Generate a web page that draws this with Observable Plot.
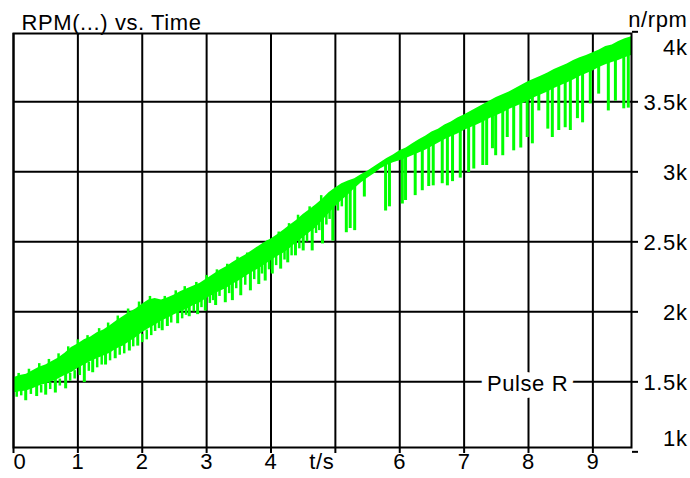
<!DOCTYPE html>
<html><head><meta charset="utf-8">
<script src="https://cdn.jsdelivr.net/npm/d3@7"></script>
<script src="https://cdn.jsdelivr.net/npm/@observablehq/plot@0.6"></script>
<style>html,body{margin:0;padding:0;background:#fff;}</style>
</head><body><div id="chart"></div>
<script>
// ---- Data ----
const title = "RPM(...) vs. Time";
const yUnit = "n/rpm";
const seriesName = "Pulse R";
const xTickValues = [0, 1, 2, 3, 4, 5, 6, 7, 8, 9];
const xTickLabels = ["0", "1", "2", "3", "4", "t/s", "6", "7", "8", "9"];
const yTickValues = [1000, 1500, 2000, 2500, 3000, 3500, 4000];
const yTickLabels = ["1k", "1.5k", "2k", "2.5k", "3k", "3.5k", "4k"];

// time samples of the dense band (s)
const bandT = [0,0.1,0.2,0.3,0.4,0.5,0.6,0.7,0.8,0.9,
1.0,1.1,1.2,1.3,1.4,1.5,1.6,1.7,1.8,1.9,
2.0,2.1,2.2,2.3,2.4,2.5,2.6,2.7,2.8,2.9,
3.0,3.1,3.2,3.3,3.4,3.5,3.6,3.7,3.8,3.9,
4.0,4.1,4.2,4.3,4.4,4.5,4.6,4.7,4.8,4.9,
5.0,5.1,5.2,5.3,5.4,5.5,5.6,5.7,5.8,5.9,
6.0,6.1,6.2,6.3,6.4,6.5,6.6,6.7,6.8,6.9,
7.0,7.1,7.2,7.3,7.4,7.5,7.6,7.7,7.8,7.9,
8.0,8.1,8.2,8.3,8.4,8.5,8.6,8.7,8.8,8.9,
9.0,9.1,9.2,9.3,9.4,9.5,9.6];
// upper edge of the dense band (rpm)
const bandUpper = [1530,1545,1555,1580,1605,1620,1645,1670,1705,1745,
1770,1800,1820,1850,1870,1900,1935,1965,1995,2020,
2055,2085,2095,2085,2100,2120,2145,2165,2185,2205,
2235,2265,2295,2320,2350,2380,2405,2435,2465,2495,
2520,2550,2585,2620,2655,2695,2730,2765,2805,2850,
2885,2915,2935,2950,2980,3005,3035,3065,3095,3120,
3150,3170,3200,3230,3255,3285,3305,3335,3355,3385,
3405,3430,3455,3480,3505,3530,3550,3570,3595,3620,
3645,3665,3685,3705,3730,3750,3770,3795,3815,3830,
3850,3870,3895,3905,3930,3950,3965];
// lower edge of the dense band (rpm)
const bandLower = [1420,1430,1435,1450,1470,1485,1500,1520,1545,1565,
1595,1620,1645,1665,1685,1705,1735,1755,1785,1815,
1850,1880,1905,1935,1955,1980,2000,2020,2045,2065,
2095,2120,2145,2165,2195,2220,2250,2280,2305,2335,
2365,2395,2420,2455,2495,2530,2565,2600,2650,2700,
2750,2795,2835,2880,2920,2955,2985,3020,3045,3065,
3080,3095,3115,3135,3155,3180,3205,3230,3250,3270,
3295,3315,3335,3355,3380,3400,3420,3445,3465,3485,
3505,3530,3550,3570,3595,3615,3635,3655,3680,3700,
3720,3745,3765,3780,3795,3815,3830];

// deep downward spikes: time, lowest rpm, rpm where the spike leaves the band
const spikeT = [0.19,0.36,0.50,0.65,0.81,1.10,1.23,1.43,1.58,1.80,1.93,
2.31,2.39,2.55,2.73,2.86,2.98,
3.14,3.29,3.40,3.53,3.68,3.81,3.91,4.02,
4.15,4.26,4.38,4.50,4.64,4.80,4.96,5.17,5.23,5.30,
5.45,5.78,5.84,6.04,6.09,
6.24,6.35,6.45,6.52,6.66,6.74,6.82,6.94,7.07,7.15,
7.29,7.35,7.44,7.49,7.60,7.67,7.77,7.88,7.98,8.06,8.16,8.30,8.37,8.47,8.57,8.65,8.76,8.84,8.96,9.09,9.24,9.35,9.48,9.55];
const spikeLow = [1365,1395,1405,1420,1450,1495,1565,1620,1665,1720,1755,
1865,1895,1915,1965,1980,2005,
2045,2065,2080,2115,2150,2195,2220,2270,
2305,2350,2400,2435,2435,2485,2505,2565,2595,2580,
2820,2720,2750,2770,2795,
2830,2865,2895,2900,2915,2900,2930,2955,2995,3020,
3045,3045,3165,3115,3115,3245,3150,3170,3245,3200,3435,3305,3245,3295,3315,3295,3380,3350,3485,3555,3435,3505,3450,3455];
const spikeTop = [1460,1470,1490,1530,1570,1650,1680,1720,1760,1810,1850,
1960,1980,2000,2060,2085,2120,
2160,2190,2225,2260,2305,2335,2370,2400,
2440,2475,2520,2560,2620,2690,2770,2860,2890,2910,
2965,3060,3080,3110,3130,
3170,3190,3210,3225,3260,3280,3300,3330,3355,3375,
3405,3425,3445,3455,3475,3495,3515,3545,3565,3585,3605,3635,3650,3670,3690,3710,3730,3745,3770,3795,3825,3845,3865,3875];

// shallow spikes that roughen the band in the first half
const fineT = [0.05,0.12,0.27,0.43,0.57,0.72,0.88,0.95,1.03,1.17,1.30,1.37,1.50,1.65,1.72,1.86,
2.00,2.07,2.14,2.20,2.26,2.45,2.62,2.68,2.80,2.92,3.05,3.10,3.20,3.35,3.46,3.60,3.74,3.86,3.97,
4.08,4.21,4.32,4.44,4.56,4.70,4.75,4.86,4.91,5.04,5.10];
const fineLow = [1390,1400,1410,1420,1445,1470,1505,1520,1545,1575,1600,1620,1650,1690,1700,1750,
1780,1800,1830,1860,1880,1920,1950,1975,2000,2030,2060,2080,2110,2130,2165,2190,2230,2270,2300,
2330,2370,2400,2450,2500,2560,2580,2620,2660,2720,2750];
const fineTop = [1440,1450,1460,1475,1495,1520,1560,1580,1610,1640,1670,1690,1720,1750,1770,1820,
1840,1870,1900,1920,1950,1990,2020,2040,2070,2100,2140,2150,2180,2200,2240,2270,2310,2350,2380,
2420,2450,2500,2540,2590,2650,2670,2720,2760,2800,2840];

// small upward peaks on the top edge of the band
const peakT = [0.08,0.24,0.40,0.55,0.70,0.85,1.00,1.15,1.33,1.47,1.62,1.78,1.95,2.12,2.35,2.52,2.66,2.84,
3.00,3.16,3.32,3.48,3.63,3.79,3.95,4.12,4.28,4.42,4.60,4.78];
const peakHigh = [1560,1590,1630,1660,1700,1750,1800,1830,1880,1920,1970,2020,2070,2110,2110,2150,2180,2210,
2260,2300,2340,2390,2420,2460,2510,2570,2630,2690,2750,2830];
const peakBase = [1520,1550,1590,1620,1660,1710,1760,1790,1840,1880,1920,1980,2030,2070,2080,2110,2140,2170,
2220,2260,2300,2350,2380,2410,2470,2530,2590,2640,2710,2780];

// ---- Chart ----
const GREEN = "#00ff00";
const FONT = "Liberation Sans, Arial, Helvetica, sans-serif";
const FS = 22;
const labelOf = (vals, labels) => d => labels[vals.indexOf(d)];
const yMid = [1500, 2000, 2500, 3000, 3500];
const xMid = [1, 2, 3, 4, 6, 7, 8, 9];

const chart = Plot.plot({
  width: 690,
  height: 478,
  marginTop: 33,
  marginBottom: 31,
  marginLeft: 13,
  marginRight: 59,
  x: {domain: [0, 9.6]},
  y: {domain: [1031, 3988]},
  style: {fontFamily: FONT, fontSize: FS + "px", background: "white", color: "black", letterSpacing: "0.6px"},
  marks: [
    Plot.gridX(xTickValues, {stroke: "black", strokeOpacity: 1, strokeWidth: 2}),
    Plot.gridY(yMid, {stroke: "black", strokeOpacity: 1, strokeWidth: 2}),
    Plot.areaY(bandT, {x: bandT, y1: bandLower, y2: bandUpper, fill: GREEN}),
    Plot.ruleX(peakT, {x: peakT, y1: peakBase, y2: peakHigh, stroke: GREEN, strokeWidth: 2.5}),
    Plot.ruleX(fineT, {x: fineT, y1: fineLow, y2: fineTop, stroke: GREEN, strokeWidth: 2.5}),
    Plot.ruleX(spikeT, {x: spikeT, y1: spikeLow, y2: spikeTop, stroke: GREEN, strokeWidth: 3}),
    Plot.text([seriesName], {frameAnchor: "bottom-right", dx: -104, dy: -57, textAnchor: "middle",
      fill: "black", stroke: "white", strokeWidth: 14, strokeLinejoin: "miter", paintOrder: "stroke", fontSize: FS, letterSpacing: "1.3px"}),
    Plot.frame({stroke: "black", strokeWidth: 2}),
    Plot.axisX(xTickValues, {anchor: "bottom", tickSize: 6, tickFormat: () => "", label: null, strokeWidth: 2}),
    Plot.axisY(yTickValues, {anchor: "right", tickSize: 6, tickFormat: () => "", label: null, strokeWidth: 2}),
    Plot.text(xMid, {x: d => d, text: labelOf(xTickValues, xTickLabels), frameAnchor: "bottom", dy: 21, fontSize: FS, fill: "black"}),
    Plot.text([0], {x: d => d, text: labelOf(xTickValues, xTickLabels), frameAnchor: "bottom", dy: 21, textAnchor: "start", fontSize: FS, fill: "black"}),
    Plot.text([5], {x: d => d, text: labelOf(xTickValues, xTickLabels), frameAnchor: "bottom", dy: 21, dx: -1, textAnchor: "end", fontSize: FS, fill: "black"}),
    Plot.text(yMid, {y: d => d, text: labelOf(yTickValues, yTickLabels), frameAnchor: "right", dx: 56, dy: 1, textAnchor: "end", fontSize: FS, fill: "black"}),
    Plot.text([1000], {y: d => d, text: labelOf(yTickValues, yTickLabels), frameAnchor: "right", dx: 56, dy: -13, textAnchor: "end", fontSize: FS, fill: "black"}),
    Plot.text([4000], {y: d => d, text: labelOf(yTickValues, yTickLabels), frameAnchor: "right", dx: 56, dy: 16, textAnchor: "end", fontSize: FS, fill: "black"}),
    Plot.text([title], {frameAnchor: "top-left", dx: 8, dy: -4, lineAnchor: "bottom", textAnchor: "start", fontSize: FS, fill: "black"}),
    Plot.text([yUnit], {frameAnchor: "top-right", dx: 56, dy: -7, lineAnchor: "bottom", textAnchor: "end", fontSize: FS, fill: "black"})
  ]
});
document.getElementById("chart").appendChild(chart);
</script></body></html>
